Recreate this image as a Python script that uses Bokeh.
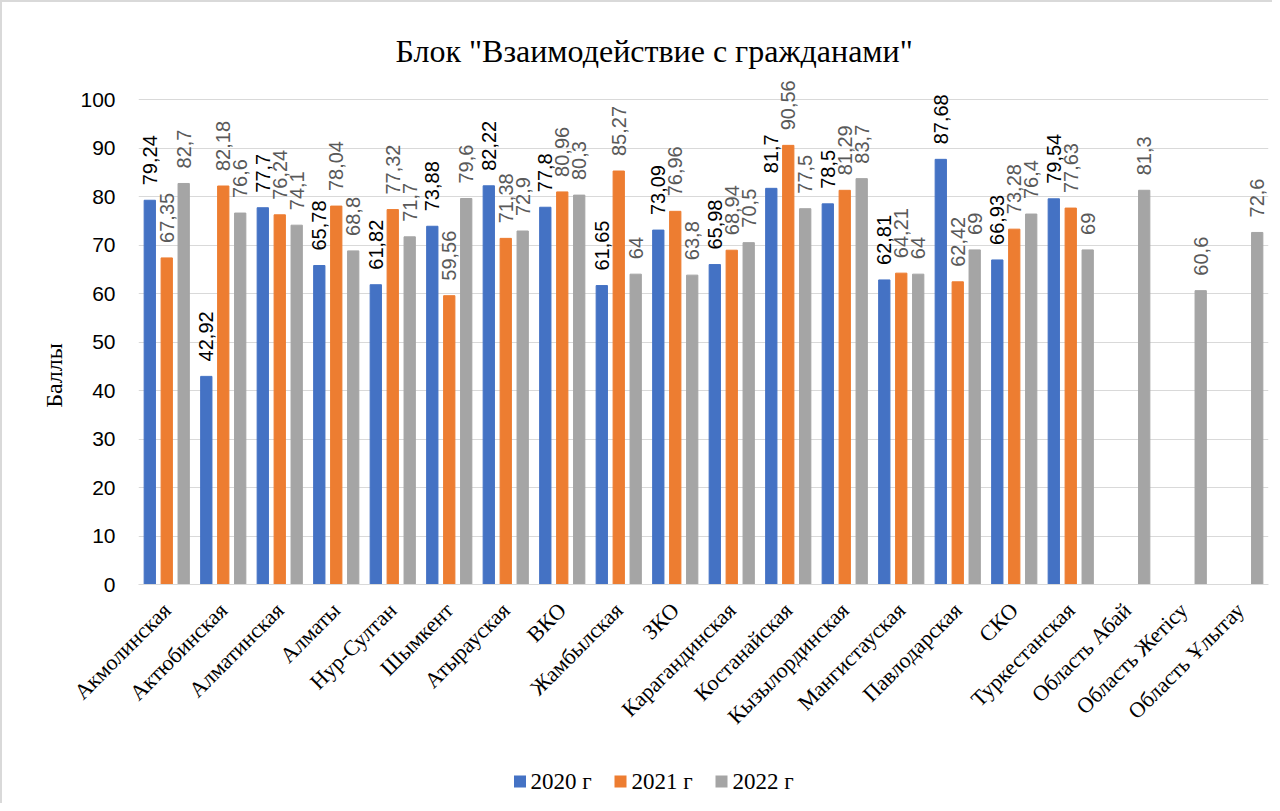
import math
from bokeh.plotting import figure
from bokeh.layouts import column
from bokeh.models import ColumnDataSource, FactorRange, FixedTicker
from bokeh.transform import dodge
from bokeh.core.properties import value
from bokeh.embed import file_html
from bokeh.resources import INLINE

categories = ["Акмолинская", "Актюбинская", "Алматинская", "Алматы", "Нур-Султан",
              "Шымкент", "Атырауская", "ВКО", "Жамбылская", "ЗКО", "Карагандинская",
              "Костанайская", "Кызылординская", "Мангистауская", "Павлодарская", "СКО",
              "Туркестанская", "Область Абай", "Область Жетісу", "Область Ұлытау"]
v2020 = [79.24, 42.92, 77.7, 65.78, 61.82, 73.88, 82.22, 77.8, 61.65, 73.09, 65.98,
         81.7, 78.5, 62.81, 87.68, 66.93, 79.54, None, None, None]
v2021 = [67.35, 82.18, 76.24, 78.04, 77.32, 59.56, 71.38, 80.96, 85.27, 76.96, 68.94,
         90.56, 81.29, 64.21, 62.42, 73.28, 77.63, None, None, None]
v2022 = [82.7, 76.6, 74.1, 68.8, 71.7, 79.6, 72.9, 80.3, 64, 63.8, 70.5,
         77.5, 83.7, 64, 69, 76.4, 69, 81.3, 60.6, 72.6]
series_names = ["2020 г", "2021 г", "2022 г"]
colors = ["#4472C4", "#ED7D31", "#A5A5A5"]
label_colors = ["#000000", "#595959", "#595959"]
y_ticks = [0, 10, 20, 30, 40, 50, 60, 70, 80, 90, 100]

p = figure(x_range=FactorRange(*categories), y_range=(0, 106),
           width=1270, height=760, output_backend="svg", toolbar_location=None,
           title='Блок "Взаимодействие с гражданами"',
           min_border_left=136, min_border_right=4, min_border_top=68,
           min_border_bottom=178)

p.title.align = "left"
p.title.offset = 257
p.title.text_font = "Liberation Serif"
p.title.text_font_size = "32px"
p.title.text_font_style = "normal"
p.title.text_color = "#000000"
p.title.standoff = 4

offsets = [-0.3, 0.0, 0.3]
for vals, name, col, lcol, off in zip([v2020, v2021, v2022], series_names, colors,
                                      label_colors, offsets):
    cats = [c for c, v in zip(categories, vals) if v is not None]
    vs = [v for v in vals if v is not None]
    labels = [f"{v:g}".replace(".", ",") for v in vs]
    src = ColumnDataSource(dict(cat=cats, val=vs, lab=labels))
    p.vbar(x=dodge("cat", off, range=p.x_range), top="val", width=0.2,
           source=src, fill_color=col, line_color=col)
    p.text(x=dodge("cat", off, range=p.x_range), y="val", text="lab", source=src,
           angle=math.pi / 2, text_align="left", text_baseline="middle",
           y_offset=-15, text_font=value("Liberation Sans"), text_font_size="20px",
           text_color=lcol)

p.xgrid.grid_line_color = None
p.ygrid.grid_line_color = "#D9D9D9"
p.ygrid.ticker = FixedTicker(ticks=y_ticks)
p.yaxis.ticker = FixedTicker(ticks=y_ticks)
p.yaxis.axis_line_color = None
p.yaxis.major_tick_line_color = None
p.yaxis.minor_tick_line_color = None
p.yaxis.major_tick_out = 0
p.yaxis.minor_tick_out = 0
p.yaxis.major_label_standoff = 23
p.yaxis.major_label_text_font = "Liberation Sans"
p.yaxis.major_label_text_font_size = "21px"
p.yaxis.major_label_text_color = "#000000"
# trailing no-break spaces shift the visible label down to where the reference has it
p.yaxis.axis_label = "Баллы" + "\u00a0" * 16
p.yaxis.axis_label_text_font = "Liberation Serif"
p.yaxis.axis_label_text_font_size = "24px"
p.yaxis.axis_label_text_font_style = "normal"
p.yaxis.axis_label_text_color = "#000000"
p.yaxis.axis_label_standoff = 10

p.xaxis.axis_line_color = "#D9D9D9"
p.xaxis.major_tick_line_color = None
p.xaxis.minor_tick_line_color = None
p.xaxis.major_tick_out = 0
p.xaxis.major_label_standoff = 22
p.xaxis.major_label_orientation = math.pi / 4
p.xaxis.major_label_text_font = "Liberation Serif"
p.xaxis.major_label_text_font_size = "22px"
p.xaxis.major_label_text_color = "#000000"

p.x_range.range_padding = 0
p.outline_line_color = None

# legend strip below the chart (its frame is aligned with the chart's frame)
leg = figure(x_range=(138, 1268), y_range=(0, 41), width=1270, height=41,
             x_axis_type=None, y_axis_type=None,
             output_backend="svg", toolbar_location=None,
             min_border=0, min_border_left=0, min_border_right=0,
             min_border_top=0, min_border_bottom=0)
leg.grid.visible = False
leg.outline_line_color = None
sq_x = [519.5, 620, 721]
tx_x = [530, 631, 732]
leg.rect(x=sq_x, y=[22] * 3, width=12, height=12, fill_color=colors, line_color=None)
leg.text(x=tx_x, y=[22] * 3, text=series_names, text_align="left",
         text_baseline="middle", text_font=value("Liberation Serif"),
         text_font_size="23px", text_color="#000000")

layout = column(p, leg, spacing=0,
                styles={"border-left": "2px solid #D9D9D9",
                        "border-top": "2px solid #D9D9D9"})

open("out.html", "w").write(file_html(layout, INLINE))
